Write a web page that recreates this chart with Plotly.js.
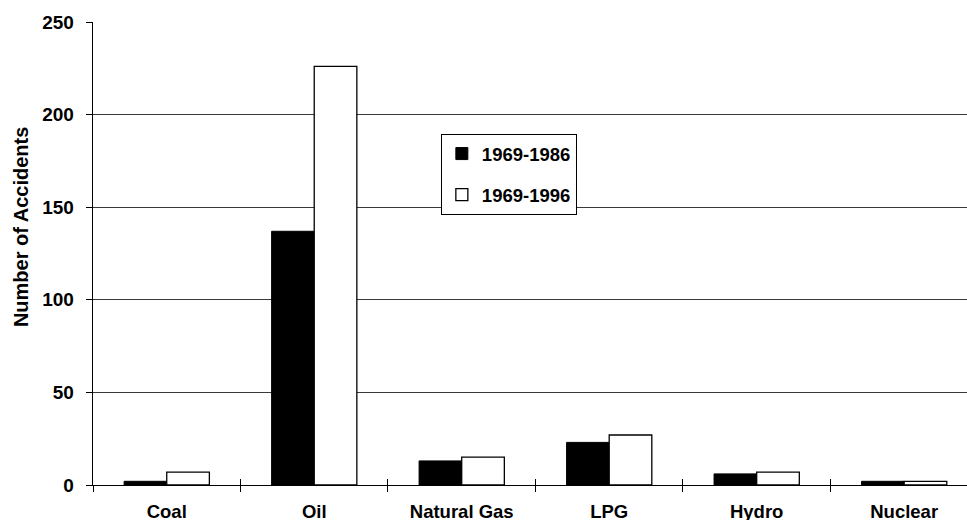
<!DOCTYPE html>
<html>
<head>
<meta charset="utf-8">
<script src="https://cdn.plot.ly/plotly-3.0.1.min.js"></script>
<style>html,body{margin:0;padding:0;overflow:hidden;background:#fff;}</style>
</head>
<body>
<div id="chart" style="width:967px;height:520px;"></div>
<script>
const categories = ["Coal", "Oil", "Natural Gas", "LPG", "Hydro", "Nuclear"];
const series1Name = "1969-1986";
const series1 = [2, 137, 13, 23, 6, 2];
const series2Name = "1969-1996";
const series2 = [7, 226, 15, 27, 7, 2];
const yTicks = [0, 50, 100, 150, 200, 250];
const yTitle = "Number of Accidents";

const FONT = "Liberation Sans, Arial, Helvetica, sans-serif";

const traces = [
  {
    type: "bar", name: series1Name, x: categories, y: series1,
    marker: {color: "#000000", line: {color: "#000000", width: 1}},
    legendgroup: "a", hoverinfo: "x+y+name"
  },
  {
    type: "bar", name: series2Name, x: categories, y: series2,
    marker: {color: "#ffffff", line: {color: "#000000", width: 1.3}},
    legendgroup: "b", hoverinfo: "x+y+name"
  },
  {
    type: "scatter", x: [], y: [], xaxis: "x2", yaxis: "y",
    showlegend: false, hoverinfo: "skip"
  }
];

const layout = {
  width: 967, height: 520,
  margin: {l: 93, r: 0, t: 22, b: 35, pad: 0},
  paper_bgcolor: "#ffffff", plot_bgcolor: "#ffffff",
  font: {family: FONT, size: 18, color: "#000000", weight: "bold"},
  barmode: "group", bargap: 0.422, bargroupgap: 0,
  showlegend: true,
  legend: {
    x: 0.398, y: 0.758, xanchor: "left", yanchor: "top",
    bgcolor: "#ffffff", bordercolor: "#000000", borderwidth: 1,
    font: {family: FONT, size: 18.5, color: "#000000", weight: "bold"},
    traceorder: "grouped", tracegroupgap: 14, itemwidth: 30
  },
  xaxis: {
    type: "category", range: [-0.5, 5.426], fixedrange: true,
    showline: true, linecolor: "#000000", linewidth: 1.3,
    ticks: "outside", ticklen: 6, tickcolor: "#000000", tickwidth: 1,
    tickson: "boundaries", showgrid: false, zeroline: false,
    ticklabelstandoff: 9,
    tickfont: {family: FONT, size: 18.5, color: "#000000", weight: "bold"}
  },
  xaxis2: {
    type: "linear", overlaying: "x", anchor: "y", side: "bottom",
    range: [-0.5, 5.426], fixedrange: true,
    tickmode: "array", tickvals: [0.5, 1.5, 2.5, 3.5, 4.5],
    ticks: "inside", ticklen: 6, tickcolor: "#000000", tickwidth: 1,
    showticklabels: false, showgrid: false, showline: false, zeroline: false
  },
  yaxis: {
    range: [0, 250], fixedrange: true,
    tickmode: "array", tickvals: yTicks, ticktext: yTicks.map(String),
    ticks: "outside", ticklen: 6, tickcolor: "#000000", tickwidth: 1,
    showline: true, linecolor: "#000000", linewidth: 1.3,
    showgrid: true, gridcolor: "#3a3a3a", gridwidth: 1,
    zeroline: false, ticklabelstandoff: 8,
    tickfont: {family: FONT, size: 19, color: "#000000", weight: "bold"}
  },
  annotations: [{
    text: yTitle, xref: "paper", yref: "paper",
    x: -0.083, y: 0.558, xanchor: "center", yanchor: "middle",
    textangle: -90, showarrow: false,
    font: {family: FONT, size: 20, color: "#000000", weight: "bold"}
  }]
};

Plotly.newPlot("chart", traces, layout, {displayModeBar: false, staticPlot: true});
</script>
</body>
</html>
